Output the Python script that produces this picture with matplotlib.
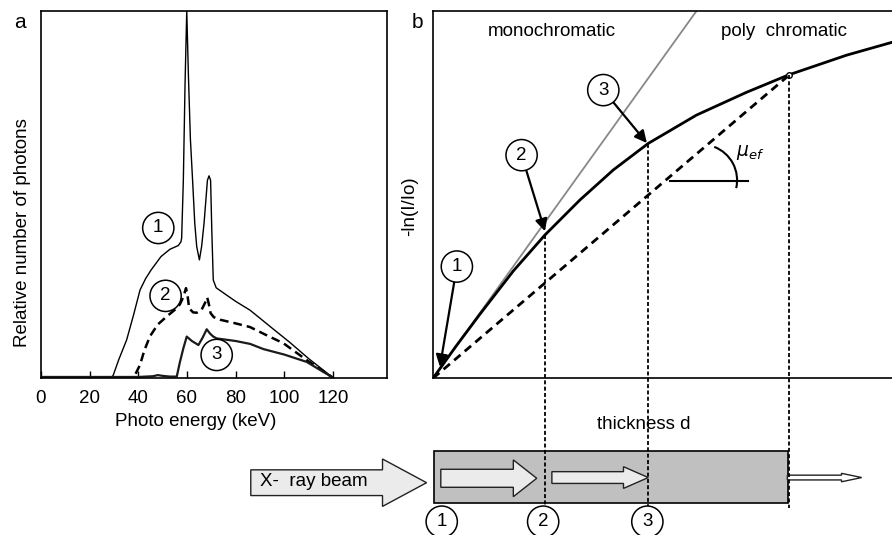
import numpy as np
import matplotlib
matplotlib.use("Agg")
import matplotlib.pyplot as plt
from matplotlib.patches import FancyArrow, Rectangle, Arc

plt.rcParams['font.family'] = ['Liberation Sans', 'DejaVu Sans']
FS = 13.5

# panel a: spectra (photon energy keV vs relative number of photons)
e1 = [0, 29, 29.7, 32, 35.2, 38, 40.7, 43, 45.2, 49.3, 53, 56.4, 57.5, 57.8, 58.5, 59.2,
      59.9, 60.6, 61.4, 62.3, 63.2, 64.0, 65.1, 66.0, 67.0, 68.4, 69.05, 69.7, 70.2, 70.8,
      72, 76.3, 80, 85.9, 90, 95, 102.3, 110, 120]
n1 = [0, 0, 0.7, 5, 10.3, 17, 23.9, 27, 29.3, 33, 35, 36, 37, 38, 53.8, 80,
      100, 82, 65, 53.8, 42, 35.7, 32.1, 35.7, 42, 53.8, 55, 53.8, 40, 26.6,
      24.5, 22.5, 20.8, 18.4, 16.2, 13.5, 9.6, 5.2, 0]

e2 = [0, 37, 38.6, 40.7, 42.5, 44.8, 48, 51.7, 55, 57.1, 58.5, 59.6, 60.3, 60.9, 62.5,
      64, 66, 67.5, 68.3, 69.0, 69.7, 71, 73.6, 80, 85.9, 92, 99.6, 109.2, 120]
n2 = [0, 0, 0.7, 3.5, 7.5, 11.3, 14.5, 16.7, 18.5, 20, 22, 24.4, 22, 18.9, 17.8,
      17.7, 18.5, 20.5, 21.9, 20, 17.6, 16.5, 15.8, 14.8, 13.8, 11.8, 9.4, 4.8, 0]

e3 = [0, 20, 40, 46, 48, 50, 53, 55.8, 57, 58.5, 59.9, 62, 64.7, 66.5, 68.1, 69.5,
      70.8, 72.2, 80, 86, 91.4, 100, 109.2, 120]
n3 = [0.2, 0.2, 0.2, 0.4, 0.7, 0.5, 0.3, 0.3, 4, 8, 11.2, 10, 8.9, 11, 13.2, 12,
      11.2, 10.7, 10.0, 9.2, 7.8, 6.3, 4.3, 0]

spec_labels = ['1', '2', '3']
spec_label_pos = [(48.2, 40.8), (51.2, 22.3), (72.2, 6.2)]
energy_ticks = [0, 20, 40, 60, 80, 100, 120]

# panel b: attenuation vs thickness
mono_x = [0, 5.745]
mono_y = [0, 10]
poly_x = [0, 0.5, 1.02, 1.75, 2.44, 3.20, 3.93, 4.69, 5.74, 6.83, 7.74, 9.01, 10]
poly_y = [0, 0.87, 1.74, 2.92, 3.90, 4.85, 5.67, 6.39, 7.16, 7.78, 8.25, 8.79, 9.14]
eff_x = [0, 7.76]
eff_y = [0, 8.25]
d_marks = [2.44, 4.68, 7.76]
b_labels = ['1', '2', '3']
b_label_pos = [(0.52, 3.04), (1.93, 6.07), (3.71, 7.84)]
b_arrow_tips = [(0.15, 0.31), (2.44, 4.00), (4.66, 6.40)]

fig = plt.figure(figsize=(8.92, 5.35), dpi=100)
W, H = 892, 535

circ = dict(boxstyle='circle,pad=0.38', fc='white', ec='black', lw=1.1)

# ---------------- panel a
ax = fig.add_axes([41 / W, 1 - 377.7 / H, 346 / W, 367 / H])
ax.plot(e1, n1, color='black', lw=1.0)
ax.plot(e2, n2, color='black', lw=1.8, dashes=(3.5, 2))
ax.plot(e3, n3, color='#1a1a1a', lw=1.6)
ax.set_xlim(0, 142.2)
ax.set_ylim(0, 100)
ax.set_xticks(energy_ticks)
ax.set_yticks([])
ax.tick_params(axis='x', direction='in', length=5, width=1, labelsize=FS, pad=9)
for s in ax.spines.values():
    s.set_linewidth(1.2)
ax.set_xlabel('Photo energy (keV)', fontsize=FS)
ax.xaxis.set_label_coords((196 - 41) / 346, (377.7 - 413) / 367)
ax.set_ylabel('Relative number of photons', fontsize=FS)
ax.yaxis.set_label_coords((31 - 41) / 346, (377.7 - 233) / 367)
for lab, (x, y) in zip(spec_labels, spec_label_pos):
    ax.text(x, y, lab, ha='center', va='center', fontsize=FS, bbox=circ)
fig.text(19.5 / W, 1 - 23 / H, 'a', ha='center', va='center', fontsize=15)

# ---------------- panel b
bx = fig.add_axes([433 / W, 1 - 378.3 / H, 1 - 433 / W, 367.6 / H])
bx.plot(mono_x, mono_y, color='#888888', lw=1.3)
bx.plot(poly_x, poly_y, color='black', lw=2.0)
bx.plot(eff_x, eff_y, color='black', lw=2.0, dashes=(3, 2))
bx.plot(eff_x[-1], eff_y[-1], 'o', ms=4, mfc='white', mec='black', mew=1)
bx.set_xlim(0, 10)
bx.set_ylim(0, 10)
bx.set_xticks([])
bx.set_yticks([])
bx.spines['right'].set_visible(False)
for s in ['left', 'top', 'bottom']:
    bx.spines[s].set_linewidth(1.2)
bx.set_ylabel('-ln(I/Io)', fontsize=FS)
bx.yaxis.set_label_coords((418 - 433) / 459, (378.3 - 206) / 367.6)
bx.text(2.59, 9.43, 'monochromatic', ha='center', va='center', fontsize=FS)
bx.text(7.65, 9.43, 'poly  chromatic', ha='center', va='center', fontsize=FS)
fig.text(417.5 / W, 1 - 22 / H, 'b', ha='center', va='center', fontsize=15)

# mu_ef angle marker
bx.plot([5.16, 6.87], [5.375, 5.375], color='black', lw=1.5)
bx.add_patch(Arc((5.85, 5.39), 1.55, 1.94, theta1=-16, theta2=73, color='black', lw=1.5))
bx.text(6.60, 6.13, r'$\mu_{ef}$', ha='left', va='center', fontsize=FS)

for lab, pos, tip in zip(b_labels, b_label_pos, b_arrow_tips):
    bx.annotate(lab, xy=tip, xytext=pos, ha='center', va='center', fontsize=FS, bbox=circ,
                arrowprops=dict(arrowstyle='-|>', color='black', lw=1.6,
                                mutation_scale=18, shrinkA=0, shrinkB=0))

# vertical dotted lines from curve through slab
for d in d_marks:
    top = np.interp(d, poly_x, poly_y)
    bx.plot([d, d], [top, -3.53], color='black', lw=1.3, dashes=(2.2, 1.3), clip_on=False, zorder=5)

# slab schematic below panel b (data units of panel b)
bx.add_patch(Rectangle((0.02, -3.38), 7.72, 1.39, fc='#c0c0c0', ec='black', lw=1.2, clip_on=False, zorder=2))
arrows = [
    # x, y, length, width, head width, head length, fill
    (-3.97, -2.84, 3.83, 0.70, 1.29, 0.96, '#ebebeb'),
    (0.17, -2.72, 2.09, 0.49, 1.00, 0.51, '#ebebeb'),
    (2.59, -2.70, 2.10, 0.32, 0.59, 0.54, '#ebebeb'),
    (7.72, -2.70, 1.62, 0.13, 0.23, 0.44, 'white'),
]
for x0, y0, ln, wd, hw, hl, fc in arrows:
    bx.add_patch(FancyArrow(x0, y0, ln, 0, width=wd, head_width=hw, head_length=hl,
                            length_includes_head=True, fc=fc, ec='#222222', lw=1.0,
                            clip_on=False, zorder=3))
bx.text(-2.59, -2.80, 'X-  ray beam', ha='center', va='center', fontsize=FS, zorder=4)
bx.text(4.60, -1.25, 'thickness d', ha='center', va='center', fontsize=FS)

for lab, x in zip(['1', '2', '3'], [0.19, 2.40, 4.67]):
    bx.text(x, -3.90, lab, ha='center', va='center', fontsize=FS, bbox=circ, clip_on=False, zorder=6)

fig.savefig('out.png', dpi=100)
